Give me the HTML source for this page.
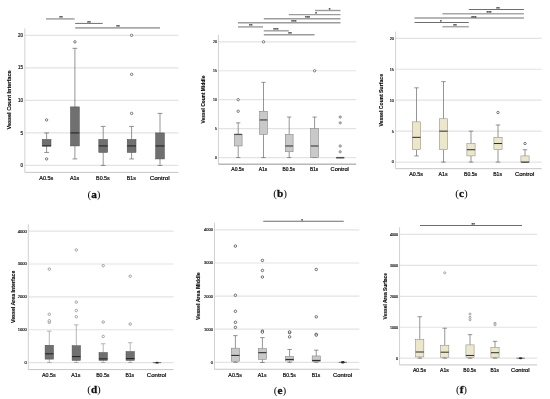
<!DOCTYPE html>
<html><head><meta charset="utf-8"><title>Figure</title>
<style>
html,body{margin:0;padding:0;background:#fff;}
body{width:550px;height:399px;overflow:hidden;font-family:"Liberation Sans",sans-serif;}
svg{display:block;will-change:transform;}
</style></head><body>
<svg width="550" height="399" viewBox="0 0 550 399">
<rect width="550" height="399" fill="#ffffff"/>
<line x1="24.85" y1="165.45" x2="178.40" y2="165.45" stroke="#e3e3e3" stroke-width="1.2" />
<text x="23.00" y="167.07" font-size="4.5" text-anchor="end" font-weight="normal" font-family="Liberation Sans, sans-serif" fill="#111" stroke="#111" stroke-width="0.16">0</text>
<line x1="24.85" y1="132.92" x2="178.40" y2="132.92" stroke="#e3e3e3" stroke-width="1.2" />
<text x="23.00" y="134.54" font-size="4.5" text-anchor="end" font-weight="normal" font-family="Liberation Sans, sans-serif" fill="#111" stroke="#111" stroke-width="0.16">5</text>
<line x1="24.85" y1="100.39" x2="178.40" y2="100.39" stroke="#e3e3e3" stroke-width="1.2" />
<text x="23.00" y="102.01" font-size="4.5" text-anchor="end" font-weight="normal" font-family="Liberation Sans, sans-serif" fill="#111" stroke="#111" stroke-width="0.16">10</text>
<line x1="24.85" y1="67.86" x2="178.40" y2="67.86" stroke="#e3e3e3" stroke-width="1.2" />
<text x="23.00" y="69.48" font-size="4.5" text-anchor="end" font-weight="normal" font-family="Liberation Sans, sans-serif" fill="#111" stroke="#111" stroke-width="0.16">15</text>
<line x1="24.85" y1="35.33" x2="178.40" y2="35.33" stroke="#e3e3e3" stroke-width="1.2" />
<text x="23.00" y="36.95" font-size="4.5" text-anchor="end" font-weight="normal" font-family="Liberation Sans, sans-serif" fill="#111" stroke="#111" stroke-width="0.16">20</text>
<line x1="24.85" y1="28.30" x2="24.85" y2="172.40" stroke="#c6c6c6" stroke-width="0.8" />
<line x1="24.85" y1="172.40" x2="178.40" y2="172.40" stroke="#c6c6c6" stroke-width="1.0" />
<text x="10.80" y="100.00" font-size="5.05" text-anchor="middle" font-weight="bold" font-family="Liberation Sans, sans-serif" fill="#000" transform="rotate(-90 10.80 100.00)" stroke="#111" stroke-width="0.12" textLength="59" lengthAdjust="spacingAndGlyphs">Vessel Count Interface</text>
<text x="46.30" y="179.50" font-size="5.3" text-anchor="middle" font-weight="normal" font-family="Liberation Sans, sans-serif" fill="#0a0a0a" stroke="#0a0a0a" stroke-width="0.2" textLength="14.1" lengthAdjust="spacingAndGlyphs">A0.5s</text>
<text x="74.60" y="179.50" font-size="5.3" text-anchor="middle" font-weight="normal" font-family="Liberation Sans, sans-serif" fill="#0a0a0a" stroke="#0a0a0a" stroke-width="0.2" textLength="9.33" lengthAdjust="spacingAndGlyphs">A1s</text>
<text x="102.90" y="179.50" font-size="5.3" text-anchor="middle" font-weight="normal" font-family="Liberation Sans, sans-serif" fill="#0a0a0a" stroke="#0a0a0a" stroke-width="0.2" textLength="13.67" lengthAdjust="spacingAndGlyphs">B0.5s</text>
<text x="131.30" y="179.50" font-size="5.3" text-anchor="middle" font-weight="normal" font-family="Liberation Sans, sans-serif" fill="#0a0a0a" stroke="#0a0a0a" stroke-width="0.2" textLength="9.01" lengthAdjust="spacingAndGlyphs">B1s</text>
<text x="159.70" y="179.50" font-size="5.3" text-anchor="middle" font-weight="normal" font-family="Liberation Sans, sans-serif" fill="#0a0a0a" stroke="#0a0a0a" stroke-width="0.2" textLength="20.03" lengthAdjust="spacingAndGlyphs">Control</text>
<line x1="46.60" y1="132.92" x2="46.60" y2="139.43" stroke="#686868" stroke-width="0.7" />
<line x1="46.60" y1="145.93" x2="46.60" y2="152.44" stroke="#686868" stroke-width="0.7" />
<line x1="44.18" y1="132.92" x2="49.02" y2="132.92" stroke="#686868" stroke-width="0.7" />
<line x1="44.18" y1="152.44" x2="49.02" y2="152.44" stroke="#686868" stroke-width="0.7" />
<rect x="42.20" y="139.43" width="8.80" height="6.51" fill="#707070" stroke="#4a4a4a" stroke-width="0.5"/>
<line x1="42.20" y1="145.93" x2="51.00" y2="145.93" stroke="#1e1e1e" stroke-width="1.0" />
<line x1="74.90" y1="48.34" x2="74.90" y2="106.90" stroke="#686868" stroke-width="0.7" />
<line x1="74.90" y1="145.93" x2="74.90" y2="158.94" stroke="#686868" stroke-width="0.7" />
<line x1="72.48" y1="48.34" x2="77.32" y2="48.34" stroke="#686868" stroke-width="0.7" />
<line x1="72.48" y1="158.94" x2="77.32" y2="158.94" stroke="#686868" stroke-width="0.7" />
<rect x="70.50" y="106.90" width="8.80" height="39.04" fill="#707070" stroke="#4a4a4a" stroke-width="0.5"/>
<line x1="70.50" y1="132.92" x2="79.30" y2="132.92" stroke="#1e1e1e" stroke-width="1.0" />
<line x1="103.20" y1="126.41" x2="103.20" y2="139.43" stroke="#686868" stroke-width="0.7" />
<line x1="103.20" y1="152.44" x2="103.20" y2="165.45" stroke="#686868" stroke-width="0.7" />
<line x1="100.78" y1="126.41" x2="105.62" y2="126.41" stroke="#686868" stroke-width="0.7" />
<line x1="100.78" y1="165.45" x2="105.62" y2="165.45" stroke="#686868" stroke-width="0.7" />
<rect x="98.80" y="139.43" width="8.80" height="13.01" fill="#707070" stroke="#4a4a4a" stroke-width="0.5"/>
<line x1="98.80" y1="145.93" x2="107.60" y2="145.93" stroke="#1e1e1e" stroke-width="1.0" />
<line x1="131.60" y1="126.41" x2="131.60" y2="139.43" stroke="#686868" stroke-width="0.7" />
<line x1="131.60" y1="152.44" x2="131.60" y2="158.94" stroke="#686868" stroke-width="0.7" />
<line x1="129.18" y1="126.41" x2="134.02" y2="126.41" stroke="#686868" stroke-width="0.7" />
<line x1="129.18" y1="158.94" x2="134.02" y2="158.94" stroke="#686868" stroke-width="0.7" />
<rect x="127.20" y="139.43" width="8.80" height="13.01" fill="#707070" stroke="#4a4a4a" stroke-width="0.5"/>
<line x1="127.20" y1="145.93" x2="136.00" y2="145.93" stroke="#1e1e1e" stroke-width="1.0" />
<line x1="160.00" y1="113.40" x2="160.00" y2="132.92" stroke="#686868" stroke-width="0.7" />
<line x1="160.00" y1="158.94" x2="160.00" y2="165.45" stroke="#686868" stroke-width="0.7" />
<line x1="157.58" y1="113.40" x2="162.42" y2="113.40" stroke="#686868" stroke-width="0.7" />
<line x1="157.58" y1="165.45" x2="162.42" y2="165.45" stroke="#686868" stroke-width="0.7" />
<rect x="155.60" y="132.92" width="8.80" height="26.02" fill="#707070" stroke="#4a4a4a" stroke-width="0.5"/>
<line x1="155.60" y1="145.93" x2="164.40" y2="145.93" stroke="#1e1e1e" stroke-width="1.0" />
<circle cx="46.60" cy="119.91" r="1.2" fill="#fff" stroke="#505050" stroke-width="0.75"/>
<circle cx="46.60" cy="158.94" r="1.2" fill="#fff" stroke="#505050" stroke-width="0.75"/>
<circle cx="74.90" cy="41.84" r="1.2" fill="#fff" stroke="#505050" stroke-width="0.75"/>
<circle cx="131.60" cy="113.40" r="1.2" fill="#fff" stroke="#505050" stroke-width="0.75"/>
<circle cx="131.60" cy="74.37" r="1.2" fill="#fff" stroke="#505050" stroke-width="0.75"/>
<circle cx="131.60" cy="35.33" r="1.2" fill="#fff" stroke="#505050" stroke-width="0.75"/>
<line x1="46.00" y1="18.90" x2="74.60" y2="18.90" stroke="#9c9c9c" stroke-width="1.4" />
<text x="61.00" y="19.40" font-size="4.4" text-anchor="middle" font-weight="bold" font-family="Liberation Sans, sans-serif" fill="#333" stroke="#333" stroke-width="0.15">**</text>
<line x1="75.20" y1="23.40" x2="102.70" y2="23.40" stroke="#6e6e6e" stroke-width="1.0" />
<text x="89.00" y="23.90" font-size="4.4" text-anchor="middle" font-weight="bold" font-family="Liberation Sans, sans-serif" fill="#333" stroke="#333" stroke-width="0.15">**</text>
<line x1="75.20" y1="27.80" x2="160.00" y2="27.80" stroke="#a8a8a8" stroke-width="1.7" />
<text x="118.00" y="28.30" font-size="4.4" text-anchor="middle" font-weight="bold" font-family="Liberation Sans, sans-serif" fill="#333" stroke="#333" stroke-width="0.15">**</text>
<text x="94.00" y="197.60" font-size="11.2" text-anchor="middle" font-weight="normal" font-family="Liberation Serif, serif" fill="#111" >(<tspan font-weight="bold" stroke="#111" stroke-width="0.3">a</tspan>)</text>
<line x1="218.45" y1="157.56" x2="356.20" y2="157.56" stroke="#e3e3e3" stroke-width="1.2" />
<text x="216.80" y="158.78" font-size="3.4" text-anchor="end" font-weight="normal" font-family="Liberation Sans, sans-serif" fill="#111" stroke="#111" stroke-width="0.16">0</text>
<line x1="218.45" y1="128.62" x2="356.20" y2="128.62" stroke="#e3e3e3" stroke-width="1.2" />
<text x="216.80" y="129.85" font-size="3.4" text-anchor="end" font-weight="normal" font-family="Liberation Sans, sans-serif" fill="#111" stroke="#111" stroke-width="0.16">5</text>
<line x1="218.45" y1="99.69" x2="356.20" y2="99.69" stroke="#e3e3e3" stroke-width="1.2" />
<text x="216.80" y="100.91" font-size="3.4" text-anchor="end" font-weight="normal" font-family="Liberation Sans, sans-serif" fill="#111" stroke="#111" stroke-width="0.16">10</text>
<line x1="218.45" y1="70.76" x2="356.20" y2="70.76" stroke="#e3e3e3" stroke-width="1.2" />
<text x="216.80" y="71.98" font-size="3.4" text-anchor="end" font-weight="normal" font-family="Liberation Sans, sans-serif" fill="#111" stroke="#111" stroke-width="0.16">15</text>
<line x1="218.45" y1="41.82" x2="356.20" y2="41.82" stroke="#e3e3e3" stroke-width="1.2" />
<text x="216.80" y="43.04" font-size="3.4" text-anchor="end" font-weight="normal" font-family="Liberation Sans, sans-serif" fill="#111" stroke="#111" stroke-width="0.16">20</text>
<line x1="218.45" y1="34.90" x2="218.45" y2="164.25" stroke="#c6c6c6" stroke-width="0.8" />
<line x1="218.45" y1="164.25" x2="356.20" y2="164.25" stroke="#b8b8b8" stroke-width="1.3" />
<text x="205.30" y="99.60" font-size="4.55" text-anchor="middle" font-weight="bold" font-family="Liberation Sans, sans-serif" fill="#000" transform="rotate(-90 205.30 99.60)" stroke="#111" stroke-width="0.12" textLength="48" lengthAdjust="spacingAndGlyphs">Vessel Count Middle</text>
<text x="237.70" y="170.60" font-size="4.8" text-anchor="middle" font-weight="normal" font-family="Liberation Sans, sans-serif" fill="#0a0a0a" stroke="#0a0a0a" stroke-width="0.2" textLength="12.77" lengthAdjust="spacingAndGlyphs">A0.5s</text>
<text x="263.00" y="170.60" font-size="4.8" text-anchor="middle" font-weight="normal" font-family="Liberation Sans, sans-serif" fill="#0a0a0a" stroke="#0a0a0a" stroke-width="0.2" textLength="8.45" lengthAdjust="spacingAndGlyphs">A1s</text>
<text x="288.70" y="170.60" font-size="4.8" text-anchor="middle" font-weight="normal" font-family="Liberation Sans, sans-serif" fill="#0a0a0a" stroke="#0a0a0a" stroke-width="0.2" textLength="12.38" lengthAdjust="spacingAndGlyphs">B0.5s</text>
<text x="314.10" y="170.60" font-size="4.8" text-anchor="middle" font-weight="normal" font-family="Liberation Sans, sans-serif" fill="#0a0a0a" stroke="#0a0a0a" stroke-width="0.2" textLength="8.16" lengthAdjust="spacingAndGlyphs">B1s</text>
<text x="339.70" y="170.60" font-size="4.8" text-anchor="middle" font-weight="normal" font-family="Liberation Sans, sans-serif" fill="#0a0a0a" stroke="#0a0a0a" stroke-width="0.2" textLength="18.14" lengthAdjust="spacingAndGlyphs">Control</text>
<line x1="238.20" y1="122.84" x2="238.20" y2="134.41" stroke="#686868" stroke-width="0.7" />
<line x1="238.20" y1="145.99" x2="238.20" y2="157.56" stroke="#686868" stroke-width="0.7" />
<line x1="236.05" y1="122.84" x2="240.34" y2="122.84" stroke="#686868" stroke-width="0.7" />
<line x1="236.05" y1="157.56" x2="240.34" y2="157.56" stroke="#686868" stroke-width="0.7" />
<rect x="234.30" y="134.41" width="7.80" height="11.57" fill="#c9c9c9" stroke="#777" stroke-width="0.5"/>
<line x1="234.30" y1="134.41" x2="242.10" y2="134.41" stroke="#505050" stroke-width="1.3" />
<line x1="263.50" y1="82.33" x2="263.50" y2="111.26" stroke="#686868" stroke-width="0.7" />
<line x1="263.50" y1="134.41" x2="263.50" y2="157.56" stroke="#686868" stroke-width="0.7" />
<line x1="261.36" y1="82.33" x2="265.64" y2="82.33" stroke="#686868" stroke-width="0.7" />
<line x1="261.36" y1="157.56" x2="265.64" y2="157.56" stroke="#686868" stroke-width="0.7" />
<rect x="259.60" y="111.26" width="7.80" height="23.15" fill="#c9c9c9" stroke="#777" stroke-width="0.5"/>
<line x1="259.60" y1="119.94" x2="267.40" y2="119.94" stroke="#505050" stroke-width="1.3" />
<line x1="289.20" y1="117.05" x2="289.20" y2="134.41" stroke="#686868" stroke-width="0.7" />
<line x1="289.20" y1="151.77" x2="289.20" y2="157.56" stroke="#686868" stroke-width="0.7" />
<line x1="287.06" y1="117.05" x2="291.34" y2="117.05" stroke="#686868" stroke-width="0.7" />
<line x1="287.06" y1="157.56" x2="291.34" y2="157.56" stroke="#686868" stroke-width="0.7" />
<rect x="285.30" y="134.41" width="7.80" height="17.36" fill="#c9c9c9" stroke="#777" stroke-width="0.5"/>
<line x1="285.30" y1="145.99" x2="293.10" y2="145.99" stroke="#505050" stroke-width="1.3" />
<line x1="314.60" y1="117.05" x2="314.60" y2="128.62" stroke="#686868" stroke-width="0.7" />
<line x1="314.60" y1="157.56" x2="314.60" y2="157.56" stroke="#686868" stroke-width="0.7" />
<line x1="312.46" y1="117.05" x2="316.75" y2="117.05" stroke="#686868" stroke-width="0.7" />
<line x1="312.46" y1="157.56" x2="316.75" y2="157.56" stroke="#686868" stroke-width="0.7" />
<rect x="310.70" y="128.62" width="7.80" height="28.94" fill="#c9c9c9" stroke="#777" stroke-width="0.5"/>
<line x1="310.70" y1="145.99" x2="318.50" y2="145.99" stroke="#505050" stroke-width="1.3" />
<line x1="340.20" y1="157.56" x2="340.20" y2="157.56" stroke="#686868" stroke-width="0.7" />
<line x1="340.20" y1="157.56" x2="340.20" y2="157.56" stroke="#686868" stroke-width="0.7" />
<line x1="338.06" y1="157.56" x2="342.34" y2="157.56" stroke="#686868" stroke-width="0.7" />
<line x1="338.06" y1="157.56" x2="342.34" y2="157.56" stroke="#686868" stroke-width="0.7" />
<rect x="336.30" y="157.56" width="7.80" height="0.60" fill="#c9c9c9" stroke="#777" stroke-width="0.5"/>
<line x1="336.30" y1="157.56" x2="344.10" y2="157.56" stroke="#505050" stroke-width="1.3" />
<circle cx="238.20" cy="111.26" r="1.2" fill="#fff" stroke="#4a4a4a" stroke-width="0.7"/>
<circle cx="238.20" cy="99.69" r="1.2" fill="#fff" stroke="#4a4a4a" stroke-width="0.7"/>
<circle cx="263.50" cy="41.82" r="1.2" fill="#fff" stroke="#4a4a4a" stroke-width="0.7"/>
<circle cx="314.60" cy="70.76" r="1.2" fill="#fff" stroke="#4a4a4a" stroke-width="0.7"/>
<circle cx="340.20" cy="151.77" r="1.2" fill="#b8b8b8" stroke="#858585" stroke-width="0.7"/>
<circle cx="340.20" cy="145.99" r="1.2" fill="#b8b8b8" stroke="#858585" stroke-width="0.7"/>
<circle cx="340.20" cy="122.84" r="1.2" fill="#b8b8b8" stroke="#858585" stroke-width="0.7"/>
<circle cx="340.20" cy="117.05" r="1.2" fill="#b8b8b8" stroke="#858585" stroke-width="0.7"/>
<line x1="315.00" y1="10.50" x2="340.50" y2="10.50" stroke="#9c9c9c" stroke-width="1.4" />
<text x="329.50" y="11.00" font-size="4.4" text-anchor="middle" font-weight="bold" font-family="Liberation Sans, sans-serif" fill="#333" stroke="#333" stroke-width="0.15">*</text>
<line x1="288.80" y1="14.60" x2="340.50" y2="14.60" stroke="#9c9c9c" stroke-width="1.4" />
<text x="316.20" y="15.10" font-size="4.4" text-anchor="middle" font-weight="bold" font-family="Liberation Sans, sans-serif" fill="#333" stroke="#333" stroke-width="0.15">*</text>
<line x1="263.80" y1="18.80" x2="340.50" y2="18.80" stroke="#9c9c9c" stroke-width="1.4" />
<text x="307.50" y="19.30" font-size="4.4" text-anchor="middle" font-weight="bold" font-family="Liberation Sans, sans-serif" fill="#333" stroke="#333" stroke-width="0.15">***</text>
<line x1="238.00" y1="22.70" x2="340.50" y2="22.70" stroke="#9c9c9c" stroke-width="1.4" />
<text x="293.80" y="23.20" font-size="4.4" text-anchor="middle" font-weight="bold" font-family="Liberation Sans, sans-serif" fill="#333" stroke="#333" stroke-width="0.15">***</text>
<line x1="238.00" y1="26.90" x2="263.00" y2="26.90" stroke="#9c9c9c" stroke-width="1.4" />
<text x="250.80" y="27.40" font-size="4.4" text-anchor="middle" font-weight="bold" font-family="Liberation Sans, sans-serif" fill="#333" stroke="#333" stroke-width="0.15">**</text>
<line x1="263.80" y1="30.80" x2="288.80" y2="30.80" stroke="#9c9c9c" stroke-width="1.4" />
<text x="275.80" y="31.30" font-size="4.4" text-anchor="middle" font-weight="bold" font-family="Liberation Sans, sans-serif" fill="#333" stroke="#333" stroke-width="0.15">***</text>
<line x1="263.80" y1="34.70" x2="314.50" y2="34.70" stroke="#9c9c9c" stroke-width="1.4" />
<text x="290.00" y="35.20" font-size="4.4" text-anchor="middle" font-weight="bold" font-family="Liberation Sans, sans-serif" fill="#333" stroke="#333" stroke-width="0.15">**</text>
<text x="280.10" y="196.80" font-size="11.2" text-anchor="middle" font-weight="normal" font-family="Liberation Serif, serif" fill="#111" >(<tspan font-weight="bold" stroke="#111" stroke-width="0.3">b</tspan>)</text>
<line x1="395.60" y1="162.10" x2="541.70" y2="162.10" stroke="#e3e3e3" stroke-width="1.2" />
<text x="393.90" y="163.47" font-size="3.8" text-anchor="end" font-weight="normal" font-family="Liberation Sans, sans-serif" fill="#111" stroke="#111" stroke-width="0.16">0</text>
<line x1="395.60" y1="131.15" x2="541.70" y2="131.15" stroke="#e3e3e3" stroke-width="1.2" />
<text x="393.90" y="132.52" font-size="3.8" text-anchor="end" font-weight="normal" font-family="Liberation Sans, sans-serif" fill="#111" stroke="#111" stroke-width="0.16">5</text>
<line x1="395.60" y1="100.20" x2="541.70" y2="100.20" stroke="#e3e3e3" stroke-width="1.2" />
<text x="393.90" y="101.57" font-size="3.8" text-anchor="end" font-weight="normal" font-family="Liberation Sans, sans-serif" fill="#111" stroke="#111" stroke-width="0.16">10</text>
<line x1="395.60" y1="69.25" x2="541.70" y2="69.25" stroke="#e3e3e3" stroke-width="1.2" />
<text x="393.90" y="70.62" font-size="3.8" text-anchor="end" font-weight="normal" font-family="Liberation Sans, sans-serif" fill="#111" stroke="#111" stroke-width="0.16">15</text>
<line x1="395.60" y1="38.30" x2="541.70" y2="38.30" stroke="#e3e3e3" stroke-width="1.2" />
<text x="393.90" y="39.67" font-size="3.8" text-anchor="end" font-weight="normal" font-family="Liberation Sans, sans-serif" fill="#111" stroke="#111" stroke-width="0.16">20</text>
<line x1="395.60" y1="31.50" x2="395.60" y2="168.70" stroke="#c6c6c6" stroke-width="0.8" />
<line x1="395.60" y1="168.70" x2="541.70" y2="168.70" stroke="#c6c6c6" stroke-width="1.0" />
<text x="382.90" y="100.30" font-size="4.75" text-anchor="middle" font-weight="bold" font-family="Liberation Sans, sans-serif" fill="#000" transform="rotate(-90 382.90 100.30)" stroke="#111" stroke-width="0.12" textLength="52.6" lengthAdjust="spacingAndGlyphs">Vessel Count Surface</text>
<text x="416.10" y="175.80" font-size="5.1" text-anchor="middle" font-weight="normal" font-family="Liberation Sans, sans-serif" fill="#0a0a0a" stroke="#0a0a0a" stroke-width="0.2" textLength="13.57" lengthAdjust="spacingAndGlyphs">A0.5s</text>
<text x="443.10" y="175.80" font-size="5.1" text-anchor="middle" font-weight="normal" font-family="Liberation Sans, sans-serif" fill="#0a0a0a" stroke="#0a0a0a" stroke-width="0.2" textLength="8.98" lengthAdjust="spacingAndGlyphs">A1s</text>
<text x="470.60" y="175.80" font-size="5.1" text-anchor="middle" font-weight="normal" font-family="Liberation Sans, sans-serif" fill="#0a0a0a" stroke="#0a0a0a" stroke-width="0.2" textLength="13.16" lengthAdjust="spacingAndGlyphs">B0.5s</text>
<text x="497.60" y="175.80" font-size="5.1" text-anchor="middle" font-weight="normal" font-family="Liberation Sans, sans-serif" fill="#0a0a0a" stroke="#0a0a0a" stroke-width="0.2" textLength="8.67" lengthAdjust="spacingAndGlyphs">B1s</text>
<text x="524.60" y="175.80" font-size="5.1" text-anchor="middle" font-weight="normal" font-family="Liberation Sans, sans-serif" fill="#0a0a0a" stroke="#0a0a0a" stroke-width="0.2" textLength="19.28" lengthAdjust="spacingAndGlyphs">Control</text>
<line x1="416.50" y1="87.82" x2="416.50" y2="121.86" stroke="#686868" stroke-width="0.7" />
<line x1="416.50" y1="149.72" x2="416.50" y2="155.91" stroke="#686868" stroke-width="0.7" />
<line x1="414.25" y1="87.82" x2="418.75" y2="87.82" stroke="#686868" stroke-width="0.7" />
<line x1="414.25" y1="155.91" x2="418.75" y2="155.91" stroke="#686868" stroke-width="0.7" />
<rect x="412.40" y="121.86" width="8.20" height="27.86" fill="#ede7ca" stroke="#808080" stroke-width="0.5"/>
<line x1="412.40" y1="137.34" x2="420.60" y2="137.34" stroke="#2a2a2a" stroke-width="1.0" />
<line x1="443.50" y1="81.63" x2="443.50" y2="118.77" stroke="#686868" stroke-width="0.7" />
<line x1="443.50" y1="149.72" x2="443.50" y2="162.10" stroke="#686868" stroke-width="0.7" />
<line x1="441.25" y1="81.63" x2="445.75" y2="81.63" stroke="#686868" stroke-width="0.7" />
<line x1="441.25" y1="162.10" x2="445.75" y2="162.10" stroke="#686868" stroke-width="0.7" />
<rect x="439.40" y="118.77" width="8.20" height="30.95" fill="#ede7ca" stroke="#808080" stroke-width="0.5"/>
<line x1="439.40" y1="131.15" x2="447.60" y2="131.15" stroke="#2a2a2a" stroke-width="1.0" />
<line x1="471.00" y1="131.15" x2="471.00" y2="143.53" stroke="#686868" stroke-width="0.7" />
<line x1="471.00" y1="155.91" x2="471.00" y2="162.10" stroke="#686868" stroke-width="0.7" />
<line x1="468.75" y1="131.15" x2="473.25" y2="131.15" stroke="#686868" stroke-width="0.7" />
<line x1="468.75" y1="162.10" x2="473.25" y2="162.10" stroke="#686868" stroke-width="0.7" />
<rect x="466.90" y="143.53" width="8.20" height="12.38" fill="#ede7ca" stroke="#808080" stroke-width="0.5"/>
<line x1="466.90" y1="149.72" x2="475.10" y2="149.72" stroke="#2a2a2a" stroke-width="1.0" />
<line x1="498.00" y1="124.96" x2="498.00" y2="137.34" stroke="#686868" stroke-width="0.7" />
<line x1="498.00" y1="149.72" x2="498.00" y2="162.10" stroke="#686868" stroke-width="0.7" />
<line x1="495.75" y1="124.96" x2="500.25" y2="124.96" stroke="#686868" stroke-width="0.7" />
<line x1="495.75" y1="162.10" x2="500.25" y2="162.10" stroke="#686868" stroke-width="0.7" />
<rect x="493.90" y="137.34" width="8.20" height="12.38" fill="#ede7ca" stroke="#808080" stroke-width="0.5"/>
<line x1="493.90" y1="143.53" x2="502.10" y2="143.53" stroke="#2a2a2a" stroke-width="1.0" />
<line x1="525.00" y1="149.72" x2="525.00" y2="155.91" stroke="#686868" stroke-width="0.7" />
<line x1="525.00" y1="162.10" x2="525.00" y2="162.10" stroke="#686868" stroke-width="0.7" />
<line x1="522.75" y1="149.72" x2="527.25" y2="149.72" stroke="#686868" stroke-width="0.7" />
<line x1="522.75" y1="162.10" x2="527.25" y2="162.10" stroke="#686868" stroke-width="0.7" />
<rect x="520.90" y="155.91" width="8.20" height="6.19" fill="#ede7ca" stroke="#808080" stroke-width="0.5"/>
<line x1="520.90" y1="162.10" x2="529.10" y2="162.10" stroke="#2a2a2a" stroke-width="1.0" />
<circle cx="498.00" cy="112.58" r="1.2" fill="#fff" stroke="#505050" stroke-width="0.75"/>
<circle cx="525.00" cy="143.53" r="1.2" fill="#fff" stroke="#505050" stroke-width="0.75"/>
<line x1="468.80" y1="9.50" x2="523.90" y2="9.50" stroke="#6e6e6e" stroke-width="1.0" />
<text x="498.00" y="10.00" font-size="4.4" text-anchor="middle" font-weight="bold" font-family="Liberation Sans, sans-serif" fill="#333" stroke="#333" stroke-width="0.15">**</text>
<line x1="442.40" y1="13.70" x2="523.90" y2="13.70" stroke="#a8a8a8" stroke-width="1.5" />
<text x="489.00" y="14.20" font-size="4.4" text-anchor="middle" font-weight="bold" font-family="Liberation Sans, sans-serif" fill="#333" stroke="#333" stroke-width="0.15">***</text>
<line x1="414.50" y1="18.00" x2="523.90" y2="18.00" stroke="#6e6e6e" stroke-width="1.2" />
<text x="473.80" y="18.50" font-size="4.4" text-anchor="middle" font-weight="bold" font-family="Liberation Sans, sans-serif" fill="#333" stroke="#333" stroke-width="0.15">***</text>
<line x1="414.50" y1="22.50" x2="468.80" y2="22.50" stroke="#6e6e6e" stroke-width="1.2" />
<text x="440.80" y="23.00" font-size="4.4" text-anchor="middle" font-weight="bold" font-family="Liberation Sans, sans-serif" fill="#333" stroke="#333" stroke-width="0.15">*</text>
<line x1="442.40" y1="26.70" x2="468.80" y2="26.70" stroke="#a8a8a8" stroke-width="1.5" />
<text x="455.00" y="27.20" font-size="4.4" text-anchor="middle" font-weight="bold" font-family="Liberation Sans, sans-serif" fill="#333" stroke="#333" stroke-width="0.15">**</text>
<text x="461.50" y="197.10" font-size="11.2" text-anchor="middle" font-weight="normal" font-family="Liberation Serif, serif" fill="#111" >(<tspan font-weight="bold" stroke="#111" stroke-width="0.3">c</tspan>)</text>
<line x1="28.30" y1="362.64" x2="173.60" y2="362.64" stroke="#e3e3e3" stroke-width="1.2" />
<text x="26.90" y="364.12" font-size="4.1" text-anchor="end" font-weight="normal" font-family="Liberation Sans, sans-serif" fill="#111" stroke="#111" stroke-width="0.16">0</text>
<line x1="28.30" y1="329.76" x2="173.60" y2="329.76" stroke="#e3e3e3" stroke-width="1.2" />
<text x="26.90" y="331.24" font-size="4.1" text-anchor="end" font-weight="normal" font-family="Liberation Sans, sans-serif" fill="#111" stroke="#111" stroke-width="0.16">1000</text>
<line x1="28.30" y1="296.89" x2="173.60" y2="296.89" stroke="#e3e3e3" stroke-width="1.2" />
<text x="26.90" y="298.37" font-size="4.1" text-anchor="end" font-weight="normal" font-family="Liberation Sans, sans-serif" fill="#111" stroke="#111" stroke-width="0.16">2000</text>
<line x1="28.30" y1="264.01" x2="173.60" y2="264.01" stroke="#e3e3e3" stroke-width="1.2" />
<text x="26.90" y="265.49" font-size="4.1" text-anchor="end" font-weight="normal" font-family="Liberation Sans, sans-serif" fill="#111" stroke="#111" stroke-width="0.16">3000</text>
<line x1="28.30" y1="231.14" x2="173.60" y2="231.14" stroke="#e3e3e3" stroke-width="1.2" />
<text x="26.90" y="232.62" font-size="4.1" text-anchor="end" font-weight="normal" font-family="Liberation Sans, sans-serif" fill="#111" stroke="#111" stroke-width="0.16">4000</text>
<line x1="28.30" y1="224.10" x2="28.30" y2="369.60" stroke="#c6c6c6" stroke-width="0.8" />
<line x1="28.30" y1="369.60" x2="173.60" y2="369.60" stroke="#c6c6c6" stroke-width="1.0" />
<text x="14.90" y="296.80" font-size="4.8" text-anchor="middle" font-weight="bold" font-family="Liberation Sans, sans-serif" fill="#000" transform="rotate(-90 14.90 296.80)" stroke="#111" stroke-width="0.12" textLength="52.4" lengthAdjust="spacingAndGlyphs">Vessel Area Interface</text>
<text x="48.90" y="377.20" font-size="5.15" text-anchor="middle" font-weight="normal" font-family="Liberation Sans, sans-serif" fill="#0a0a0a" stroke="#0a0a0a" stroke-width="0.2" textLength="13.7" lengthAdjust="spacingAndGlyphs">A0.5s</text>
<text x="75.90" y="377.20" font-size="5.15" text-anchor="middle" font-weight="normal" font-family="Liberation Sans, sans-serif" fill="#0a0a0a" stroke="#0a0a0a" stroke-width="0.2" textLength="9.06" lengthAdjust="spacingAndGlyphs">A1s</text>
<text x="102.80" y="377.20" font-size="5.15" text-anchor="middle" font-weight="normal" font-family="Liberation Sans, sans-serif" fill="#0a0a0a" stroke="#0a0a0a" stroke-width="0.2" textLength="13.29" lengthAdjust="spacingAndGlyphs">B0.5s</text>
<text x="129.80" y="377.20" font-size="5.15" text-anchor="middle" font-weight="normal" font-family="Liberation Sans, sans-serif" fill="#0a0a0a" stroke="#0a0a0a" stroke-width="0.2" textLength="8.76" lengthAdjust="spacingAndGlyphs">B1s</text>
<text x="156.60" y="377.20" font-size="5.15" text-anchor="middle" font-weight="normal" font-family="Liberation Sans, sans-serif" fill="#0a0a0a" stroke="#0a0a0a" stroke-width="0.2" textLength="19.47" lengthAdjust="spacingAndGlyphs">Control</text>
<line x1="49.30" y1="331.15" x2="49.30" y2="345.25" stroke="#999" stroke-width="0.7" />
<line x1="49.30" y1="359.12" x2="49.30" y2="362.48" stroke="#999" stroke-width="0.7" />
<line x1="46.99" y1="331.15" x2="51.61" y2="331.15" stroke="#999" stroke-width="0.7" />
<line x1="46.99" y1="362.48" x2="51.61" y2="362.48" stroke="#999" stroke-width="0.7" />
<rect x="45.10" y="345.25" width="8.40" height="13.87" fill="#707070" stroke="#4a4a4a" stroke-width="0.5"/>
<line x1="45.10" y1="353.83" x2="53.50" y2="353.83" stroke="#1e1e1e" stroke-width="1.0" />
<line x1="76.30" y1="324.83" x2="76.30" y2="345.74" stroke="#999" stroke-width="0.7" />
<line x1="76.30" y1="360.37" x2="76.30" y2="362.48" stroke="#999" stroke-width="0.7" />
<line x1="73.99" y1="324.83" x2="78.61" y2="324.83" stroke="#999" stroke-width="0.7" />
<line x1="73.99" y1="362.48" x2="78.61" y2="362.48" stroke="#999" stroke-width="0.7" />
<rect x="72.10" y="345.74" width="8.40" height="14.63" fill="#707070" stroke="#4a4a4a" stroke-width="0.5"/>
<line x1="72.10" y1="356.59" x2="80.50" y2="356.59" stroke="#1e1e1e" stroke-width="1.0" />
<line x1="103.20" y1="343.74" x2="103.20" y2="352.55" stroke="#999" stroke-width="0.7" />
<line x1="103.20" y1="360.37" x2="103.20" y2="362.48" stroke="#999" stroke-width="0.7" />
<line x1="100.89" y1="343.74" x2="105.51" y2="343.74" stroke="#999" stroke-width="0.7" />
<line x1="100.89" y1="362.48" x2="105.51" y2="362.48" stroke="#999" stroke-width="0.7" />
<rect x="99.00" y="352.55" width="8.40" height="7.82" fill="#707070" stroke="#4a4a4a" stroke-width="0.5"/>
<line x1="99.00" y1="358.86" x2="107.40" y2="358.86" stroke="#1e1e1e" stroke-width="1.0" />
<line x1="130.20" y1="342.72" x2="130.20" y2="351.56" stroke="#999" stroke-width="0.7" />
<line x1="130.20" y1="360.37" x2="130.20" y2="362.48" stroke="#999" stroke-width="0.7" />
<line x1="127.89" y1="342.72" x2="132.51" y2="342.72" stroke="#999" stroke-width="0.7" />
<line x1="127.89" y1="362.48" x2="132.51" y2="362.48" stroke="#999" stroke-width="0.7" />
<rect x="126.00" y="351.56" width="8.40" height="8.81" fill="#707070" stroke="#4a4a4a" stroke-width="0.5"/>
<line x1="126.00" y1="358.60" x2="134.40" y2="358.60" stroke="#1e1e1e" stroke-width="1.0" />
<line x1="152.80" y1="362.64" x2="161.20" y2="362.64" stroke="#555" stroke-width="0.8" />
<ellipse cx="157.00" cy="362.64" rx="1.8" ry="0.95" fill="#2a2a2a"/>
<circle cx="49.30" cy="322.30" r="1.25" fill="#fff" stroke="#909090" stroke-width="0.8"/>
<circle cx="49.30" cy="320.79" r="1.25" fill="#fff" stroke="#909090" stroke-width="0.8"/>
<circle cx="49.30" cy="314.25" r="1.25" fill="#fff" stroke="#909090" stroke-width="0.8"/>
<circle cx="49.30" cy="269.11" r="1.25" fill="#fff" stroke="#909090" stroke-width="0.8"/>
<circle cx="76.30" cy="316.75" r="1.25" fill="#fff" stroke="#909090" stroke-width="0.8"/>
<circle cx="76.30" cy="310.47" r="1.25" fill="#fff" stroke="#909090" stroke-width="0.8"/>
<circle cx="76.30" cy="302.15" r="1.25" fill="#fff" stroke="#909090" stroke-width="0.8"/>
<circle cx="76.30" cy="249.94" r="1.25" fill="#fff" stroke="#909090" stroke-width="0.8"/>
<circle cx="103.20" cy="336.44" r="1.25" fill="#fff" stroke="#909090" stroke-width="0.8"/>
<circle cx="103.20" cy="322.04" r="1.25" fill="#fff" stroke="#909090" stroke-width="0.8"/>
<circle cx="103.20" cy="265.66" r="1.25" fill="#fff" stroke="#909090" stroke-width="0.8"/>
<circle cx="130.20" cy="324.08" r="1.25" fill="#fff" stroke="#909090" stroke-width="0.8"/>
<circle cx="130.20" cy="276.18" r="1.25" fill="#fff" stroke="#909090" stroke-width="0.8"/>
<text x="94.00" y="393.30" font-size="11.2" text-anchor="middle" font-weight="normal" font-family="Liberation Serif, serif" fill="#111" >(<tspan font-weight="bold" stroke="#111" stroke-width="0.3">d</tspan>)</text>
<line x1="214.47" y1="362.30" x2="359.40" y2="362.30" stroke="#e3e3e3" stroke-width="1.2" />
<text x="213.00" y="363.74" font-size="4.0" text-anchor="end" font-weight="normal" font-family="Liberation Sans, sans-serif" fill="#111" stroke="#111" stroke-width="0.16">0</text>
<line x1="214.47" y1="329.20" x2="359.40" y2="329.20" stroke="#e3e3e3" stroke-width="1.2" />
<text x="213.00" y="330.64" font-size="4.0" text-anchor="end" font-weight="normal" font-family="Liberation Sans, sans-serif" fill="#111" stroke="#111" stroke-width="0.16">1000</text>
<line x1="214.47" y1="296.10" x2="359.40" y2="296.10" stroke="#e3e3e3" stroke-width="1.2" />
<text x="213.00" y="297.54" font-size="4.0" text-anchor="end" font-weight="normal" font-family="Liberation Sans, sans-serif" fill="#111" stroke="#111" stroke-width="0.16">2000</text>
<line x1="214.47" y1="263.00" x2="359.40" y2="263.00" stroke="#e3e3e3" stroke-width="1.2" />
<text x="213.00" y="264.44" font-size="4.0" text-anchor="end" font-weight="normal" font-family="Liberation Sans, sans-serif" fill="#111" stroke="#111" stroke-width="0.16">3000</text>
<line x1="214.47" y1="229.90" x2="359.40" y2="229.90" stroke="#e3e3e3" stroke-width="1.2" />
<text x="213.00" y="231.34" font-size="4.0" text-anchor="end" font-weight="normal" font-family="Liberation Sans, sans-serif" fill="#111" stroke="#111" stroke-width="0.16">4000</text>
<line x1="214.47" y1="222.70" x2="214.47" y2="369.25" stroke="#c6c6c6" stroke-width="0.8" />
<line x1="214.47" y1="369.25" x2="359.40" y2="369.25" stroke="#c6c6c6" stroke-width="1.0" />
<text x="200.30" y="296.20" font-size="4.85" text-anchor="middle" font-weight="bold" font-family="Liberation Sans, sans-serif" fill="#000" transform="rotate(-90 200.30 296.20)" stroke="#111" stroke-width="0.12" textLength="47.6" lengthAdjust="spacingAndGlyphs">Vessel Area Middle</text>
<text x="235.10" y="376.50" font-size="5.05" text-anchor="middle" font-weight="normal" font-family="Liberation Sans, sans-serif" fill="#0a0a0a" stroke="#0a0a0a" stroke-width="0.2" textLength="13.43" lengthAdjust="spacingAndGlyphs">A0.5s</text>
<text x="262.10" y="376.50" font-size="5.05" text-anchor="middle" font-weight="normal" font-family="Liberation Sans, sans-serif" fill="#0a0a0a" stroke="#0a0a0a" stroke-width="0.2" textLength="8.89" lengthAdjust="spacingAndGlyphs">A1s</text>
<text x="289.30" y="376.50" font-size="5.05" text-anchor="middle" font-weight="normal" font-family="Liberation Sans, sans-serif" fill="#0a0a0a" stroke="#0a0a0a" stroke-width="0.2" textLength="13.03" lengthAdjust="spacingAndGlyphs">B0.5s</text>
<text x="315.95" y="376.50" font-size="5.05" text-anchor="middle" font-weight="normal" font-family="Liberation Sans, sans-serif" fill="#0a0a0a" stroke="#0a0a0a" stroke-width="0.2" textLength="8.58" lengthAdjust="spacingAndGlyphs">B1s</text>
<text x="342.50" y="376.50" font-size="5.05" text-anchor="middle" font-weight="normal" font-family="Liberation Sans, sans-serif" fill="#0a0a0a" stroke="#0a0a0a" stroke-width="0.2" textLength="19.09" lengthAdjust="spacingAndGlyphs">Control</text>
<line x1="235.40" y1="335.62" x2="235.40" y2="348.17" stroke="#686868" stroke-width="0.7" />
<line x1="235.40" y1="361.21" x2="235.40" y2="362.30" stroke="#686868" stroke-width="0.7" />
<line x1="233.15" y1="335.62" x2="237.66" y2="335.62" stroke="#686868" stroke-width="0.7" />
<line x1="233.15" y1="362.30" x2="237.66" y2="362.30" stroke="#686868" stroke-width="0.7" />
<rect x="231.30" y="348.17" width="8.20" height="13.04" fill="#c9c9c9" stroke="#777" stroke-width="0.5"/>
<line x1="231.30" y1="355.42" x2="239.50" y2="355.42" stroke="#2e2e2e" stroke-width="1.1" />
<line x1="262.40" y1="337.64" x2="262.40" y2="348.66" stroke="#686868" stroke-width="0.7" />
<line x1="262.40" y1="359.45" x2="262.40" y2="362.53" stroke="#686868" stroke-width="0.7" />
<line x1="260.14" y1="337.64" x2="264.65" y2="337.64" stroke="#686868" stroke-width="0.7" />
<line x1="260.14" y1="362.53" x2="264.65" y2="362.53" stroke="#686868" stroke-width="0.7" />
<rect x="258.30" y="348.66" width="8.20" height="10.79" fill="#c9c9c9" stroke="#777" stroke-width="0.5"/>
<line x1="258.30" y1="352.67" x2="266.50" y2="352.67" stroke="#2e2e2e" stroke-width="1.1" />
<line x1="289.60" y1="349.46" x2="289.60" y2="356.44" stroke="#686868" stroke-width="0.7" />
<line x1="289.60" y1="360.94" x2="289.60" y2="362.30" stroke="#686868" stroke-width="0.7" />
<line x1="287.35" y1="349.46" x2="291.86" y2="349.46" stroke="#686868" stroke-width="0.7" />
<line x1="287.35" y1="362.30" x2="291.86" y2="362.30" stroke="#686868" stroke-width="0.7" />
<rect x="285.50" y="356.44" width="8.20" height="4.50" fill="#c9c9c9" stroke="#777" stroke-width="0.5"/>
<line x1="285.50" y1="359.45" x2="293.70" y2="359.45" stroke="#2e2e2e" stroke-width="1.1" />
<line x1="316.25" y1="350.15" x2="316.25" y2="355.94" stroke="#686868" stroke-width="0.7" />
<line x1="316.25" y1="361.70" x2="316.25" y2="362.30" stroke="#686868" stroke-width="0.7" />
<line x1="314.00" y1="350.15" x2="318.50" y2="350.15" stroke="#686868" stroke-width="0.7" />
<line x1="314.00" y1="362.30" x2="318.50" y2="362.30" stroke="#686868" stroke-width="0.7" />
<rect x="312.15" y="355.94" width="8.20" height="5.76" fill="#c9c9c9" stroke="#777" stroke-width="0.5"/>
<line x1="312.15" y1="360.45" x2="320.35" y2="360.45" stroke="#2e2e2e" stroke-width="1.1" />
<line x1="338.70" y1="362.30" x2="346.90" y2="362.30" stroke="#555" stroke-width="0.8" />
<ellipse cx="342.80" cy="362.30" rx="1.8" ry="1.2" fill="#2a2a2a"/>
<circle cx="235.40" cy="327.35" r="1.25" fill="#fff" stroke="#3a3a3a" stroke-width="0.7"/>
<circle cx="235.40" cy="322.32" r="1.25" fill="#fff" stroke="#3a3a3a" stroke-width="0.7"/>
<circle cx="235.40" cy="311.29" r="1.25" fill="#fff" stroke="#3a3a3a" stroke-width="0.7"/>
<circle cx="235.40" cy="295.24" r="1.25" fill="#fff" stroke="#3a3a3a" stroke-width="0.7"/>
<circle cx="235.40" cy="246.09" r="1.25" fill="#fff" stroke="#3a3a3a" stroke-width="0.7"/>
<circle cx="262.40" cy="331.09" r="1.25" fill="#fff" stroke="#3a3a3a" stroke-width="0.7"/>
<circle cx="262.40" cy="332.11" r="1.25" fill="#fff" stroke="#3a3a3a" stroke-width="0.7"/>
<circle cx="262.40" cy="276.97" r="1.25" fill="#fff" stroke="#3a3a3a" stroke-width="0.7"/>
<circle cx="262.40" cy="270.41" r="1.25" fill="#fff" stroke="#3a3a3a" stroke-width="0.7"/>
<circle cx="262.40" cy="260.42" r="1.25" fill="#fff" stroke="#3a3a3a" stroke-width="0.7"/>
<circle cx="289.60" cy="336.88" r="1.25" fill="#fff" stroke="#3a3a3a" stroke-width="0.7"/>
<circle cx="289.60" cy="332.61" r="1.25" fill="#fff" stroke="#3a3a3a" stroke-width="0.7"/>
<circle cx="289.60" cy="331.91" r="1.25" fill="#fff" stroke="#3a3a3a" stroke-width="0.7"/>
<circle cx="316.25" cy="334.36" r="1.25" fill="#fff" stroke="#3a3a3a" stroke-width="0.7"/>
<circle cx="316.25" cy="335.12" r="1.25" fill="#fff" stroke="#3a3a3a" stroke-width="0.7"/>
<circle cx="316.25" cy="316.82" r="1.25" fill="#fff" stroke="#3a3a3a" stroke-width="0.7"/>
<circle cx="316.25" cy="269.42" r="1.25" fill="#fff" stroke="#3a3a3a" stroke-width="0.7"/>
<line x1="263.25" y1="221.25" x2="343.75" y2="221.25" stroke="#6e6e6e" stroke-width="1.0" />
<text x="302.00" y="221.75" font-size="4.4" text-anchor="middle" font-weight="bold" font-family="Liberation Sans, sans-serif" fill="#333" stroke="#333" stroke-width="0.15">*</text>
<text x="280.00" y="393.80" font-size="11.2" text-anchor="middle" font-weight="normal" font-family="Liberation Serif, serif" fill="#111" >(<tspan font-weight="bold" stroke="#111" stroke-width="0.3">e</tspan>)</text>
<line x1="399.55" y1="358.20" x2="537.00" y2="358.20" stroke="#e3e3e3" stroke-width="1.2" />
<text x="398.10" y="359.51" font-size="3.65" text-anchor="end" font-weight="normal" font-family="Liberation Sans, sans-serif" fill="#111" stroke="#111" stroke-width="0.16">0</text>
<line x1="399.55" y1="327.24" x2="537.00" y2="327.24" stroke="#e3e3e3" stroke-width="1.2" />
<text x="398.10" y="328.55" font-size="3.65" text-anchor="end" font-weight="normal" font-family="Liberation Sans, sans-serif" fill="#111" stroke="#111" stroke-width="0.16">1000</text>
<line x1="399.55" y1="296.28" x2="537.00" y2="296.28" stroke="#e3e3e3" stroke-width="1.2" />
<text x="398.10" y="297.59" font-size="3.65" text-anchor="end" font-weight="normal" font-family="Liberation Sans, sans-serif" fill="#111" stroke="#111" stroke-width="0.16">2000</text>
<line x1="399.55" y1="265.32" x2="537.00" y2="265.32" stroke="#e3e3e3" stroke-width="1.2" />
<text x="398.10" y="266.63" font-size="3.65" text-anchor="end" font-weight="normal" font-family="Liberation Sans, sans-serif" fill="#111" stroke="#111" stroke-width="0.16">3000</text>
<line x1="399.55" y1="234.36" x2="537.00" y2="234.36" stroke="#e3e3e3" stroke-width="1.2" />
<text x="398.10" y="235.67" font-size="3.65" text-anchor="end" font-weight="normal" font-family="Liberation Sans, sans-serif" fill="#111" stroke="#111" stroke-width="0.16">4000</text>
<line x1="399.55" y1="227.30" x2="399.55" y2="364.90" stroke="#c6c6c6" stroke-width="0.8" />
<line x1="399.55" y1="364.90" x2="537.00" y2="364.90" stroke="#c6c6c6" stroke-width="1.0" />
<text x="387.50" y="296.20" font-size="4.8" text-anchor="middle" font-weight="bold" font-family="Liberation Sans, sans-serif" fill="#000" transform="rotate(-90 387.50 296.20)" stroke="#111" stroke-width="0.12" textLength="46.4" lengthAdjust="spacingAndGlyphs">Vessel Area Surface</text>
<text x="419.45" y="371.50" font-size="4.9" text-anchor="middle" font-weight="normal" font-family="Liberation Sans, sans-serif" fill="#0a0a0a" stroke="#0a0a0a" stroke-width="0.2" textLength="13.03" lengthAdjust="spacingAndGlyphs">A0.5s</text>
<text x="444.45" y="371.50" font-size="4.9" text-anchor="middle" font-weight="normal" font-family="Liberation Sans, sans-serif" fill="#0a0a0a" stroke="#0a0a0a" stroke-width="0.2" textLength="8.62" lengthAdjust="spacingAndGlyphs">A1s</text>
<text x="469.70" y="371.50" font-size="4.9" text-anchor="middle" font-weight="normal" font-family="Liberation Sans, sans-serif" fill="#0a0a0a" stroke="#0a0a0a" stroke-width="0.2" textLength="12.64" lengthAdjust="spacingAndGlyphs">B0.5s</text>
<text x="494.70" y="371.50" font-size="4.9" text-anchor="middle" font-weight="normal" font-family="Liberation Sans, sans-serif" fill="#0a0a0a" stroke="#0a0a0a" stroke-width="0.2" textLength="8.33" lengthAdjust="spacingAndGlyphs">B1s</text>
<text x="520.30" y="371.50" font-size="4.9" text-anchor="middle" font-weight="normal" font-family="Liberation Sans, sans-serif" fill="#0a0a0a" stroke="#0a0a0a" stroke-width="0.2" textLength="18.52" lengthAdjust="spacingAndGlyphs">Control</text>
<line x1="419.75" y1="316.71" x2="419.75" y2="339.62" stroke="#686868" stroke-width="0.7" />
<line x1="419.75" y1="356.96" x2="419.75" y2="358.20" stroke="#686868" stroke-width="0.7" />
<line x1="417.50" y1="316.71" x2="422.00" y2="316.71" stroke="#686868" stroke-width="0.7" />
<line x1="417.50" y1="358.20" x2="422.00" y2="358.20" stroke="#686868" stroke-width="0.7" />
<rect x="415.65" y="339.62" width="8.20" height="17.34" fill="#ede7ca" stroke="#808080" stroke-width="0.5"/>
<line x1="415.65" y1="352.01" x2="423.85" y2="352.01" stroke="#2a2a2a" stroke-width="1.0" />
<line x1="444.75" y1="328.23" x2="444.75" y2="345.23" stroke="#686868" stroke-width="0.7" />
<line x1="444.75" y1="357.21" x2="444.75" y2="358.20" stroke="#686868" stroke-width="0.7" />
<line x1="442.50" y1="328.23" x2="447.00" y2="328.23" stroke="#686868" stroke-width="0.7" />
<line x1="442.50" y1="358.20" x2="447.00" y2="358.20" stroke="#686868" stroke-width="0.7" />
<rect x="440.65" y="345.23" width="8.20" height="11.98" fill="#ede7ca" stroke="#808080" stroke-width="0.5"/>
<line x1="440.65" y1="352.19" x2="448.85" y2="352.19" stroke="#2a2a2a" stroke-width="1.0" />
<line x1="470.00" y1="334.67" x2="470.00" y2="344.89" stroke="#686868" stroke-width="0.7" />
<line x1="470.00" y1="357.21" x2="470.00" y2="358.20" stroke="#686868" stroke-width="0.7" />
<line x1="467.75" y1="334.67" x2="472.25" y2="334.67" stroke="#686868" stroke-width="0.7" />
<line x1="467.75" y1="358.20" x2="472.25" y2="358.20" stroke="#686868" stroke-width="0.7" />
<rect x="465.90" y="344.89" width="8.20" height="12.32" fill="#ede7ca" stroke="#808080" stroke-width="0.5"/>
<line x1="465.90" y1="355.44" x2="474.10" y2="355.44" stroke="#2a2a2a" stroke-width="1.0" />
<line x1="495.00" y1="341.33" x2="495.00" y2="347.36" stroke="#686868" stroke-width="0.7" />
<line x1="495.00" y1="357.21" x2="495.00" y2="358.20" stroke="#686868" stroke-width="0.7" />
<line x1="492.75" y1="341.33" x2="497.25" y2="341.33" stroke="#686868" stroke-width="0.7" />
<line x1="492.75" y1="358.20" x2="497.25" y2="358.20" stroke="#686868" stroke-width="0.7" />
<rect x="490.90" y="347.36" width="8.20" height="9.85" fill="#ede7ca" stroke="#808080" stroke-width="0.5"/>
<line x1="490.90" y1="352.72" x2="499.10" y2="352.72" stroke="#2a2a2a" stroke-width="1.0" />
<line x1="516.50" y1="358.20" x2="524.70" y2="358.20" stroke="#555" stroke-width="0.8" />
<ellipse cx="520.60" cy="358.20" rx="1.8" ry="0.95" fill="#2a2a2a"/>
<circle cx="444.75" cy="272.81" r="1.05" fill="#fff" stroke="#686868" stroke-width="0.55"/>
<circle cx="470.00" cy="314.02" r="1.05" fill="#fff" stroke="#686868" stroke-width="0.55"/>
<circle cx="470.00" cy="317.27" r="1.05" fill="#fff" stroke="#686868" stroke-width="0.55"/>
<circle cx="470.00" cy="319.75" r="1.05" fill="#fff" stroke="#686868" stroke-width="0.55"/>
<circle cx="495.00" cy="323.25" r="1.05" fill="#fff" stroke="#686868" stroke-width="0.55"/>
<circle cx="495.00" cy="324.76" r="1.05" fill="#fff" stroke="#686868" stroke-width="0.55"/>
<line x1="420.00" y1="225.50" x2="522.00" y2="225.50" stroke="#6e6e6e" stroke-width="1.0" />
<text x="473.25" y="226.00" font-size="4.4" text-anchor="middle" font-weight="bold" font-family="Liberation Sans, sans-serif" fill="#333" stroke="#333" stroke-width="0.15">**</text>
<text x="461.50" y="393.30" font-size="11.2" text-anchor="middle" font-weight="normal" font-family="Liberation Serif, serif" fill="#111" >(<tspan font-weight="bold" stroke="#111" stroke-width="0.3">f</tspan>)</text>
</svg>
</body></html>
